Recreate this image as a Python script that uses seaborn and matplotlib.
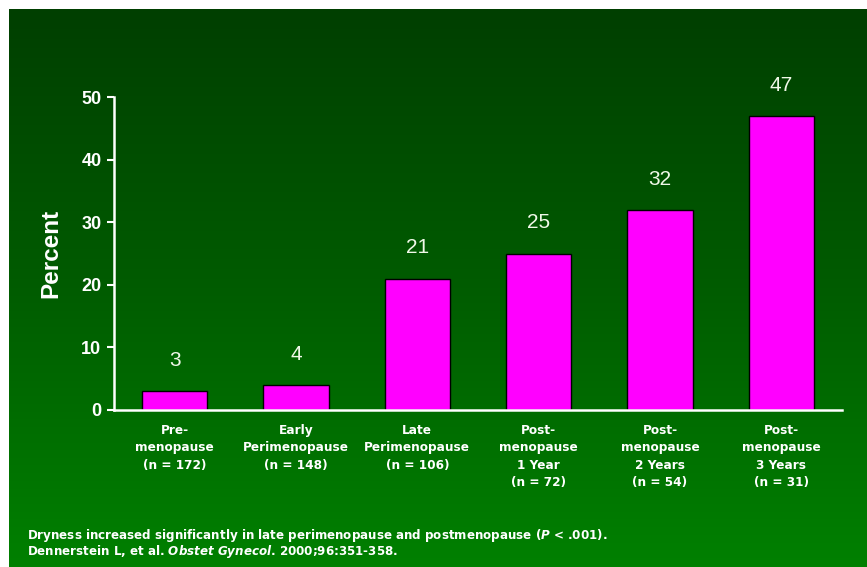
import numpy as np
import pandas as pd
import matplotlib
matplotlib.use("Agg")
import matplotlib.pyplot as plt
import seaborn as sns
from matplotlib.colors import LinearSegmentedColormap

categories = ["Pre-\nmenopause\n(n = 172)",
              "Early\nPerimenopause\n(n = 148)",
              "Late\nPerimenopause\n(n = 106)",
              "Post-\nmenopause\n1 Year\n(n = 72)",
              "Post-\nmenopause\n2 Years\n(n = 54)",
              "Post-\nmenopause\n3 Years\n(n = 31)"]
values = [3, 4, 21, 25, 32, 47]
yticks = [0, 10, 20, 30, 40, 50]

df = pd.DataFrame({"cat": categories, "val": values})

sns.set_theme(style="white")
plt.rcParams['font.family'] = ['DejaVu Sans']
plt.rcParams['mathtext.fontset'] = 'custom'
plt.rcParams['mathtext.it'] = 'DejaVu Sans:italic:bold'
plt.rcParams['mathtext.rm'] = 'DejaVu Sans:bold'

W, H = 867, 567
fig = plt.figure(figsize=(W / 100, H / 100), dpi=100)
fig.patch.set_facecolor("white")

# gradient background
bg = fig.add_axes([9 / W, 0, 1 - 9 / W, 1 - 9 / H])
cmap = LinearSegmentedColormap.from_list("g", ["#003f00", "#005c00", "#008000"])
grad = np.linspace(0, 1, 256).reshape(-1, 1)
bg.imshow(grad, aspect="auto", cmap=cmap, extent=[0, 1, 0, 1], origin="upper")
bg.set_axis_off()

left = 114 / W
right = 842 / W
bottom = 1 - 410 / H
top = 1 - 97 / H
ax = fig.add_axes([left, bottom, right - left, top - bottom])
ax.patch.set_alpha(0)

sns.barplot(data=df, x="cat", y="val", ax=ax, color="#ff00ff", saturation=1,
            width=0.54, edgecolor="black", linewidth=1.0)

ax.set_xlim(-0.5, 5.5)
ax.set_ylim(0, 50)
ax.set_yticks(yticks)
ax.set_yticklabels([str(t) for t in yticks], color="white", fontsize=13, fontweight="bold",
                   family="Liberation Sans")
ax.set_xticks(np.arange(-0.5, 6.0, 1.0))
ax.set_xticklabels([])
ax.set_xticks(np.arange(6), minor=True)
ax.set_xticklabels(categories, minor=True, color="white", fontsize=8.7, fontweight="bold",
                   linespacing=1.45, va="top")
ax.tick_params(axis="x", which="minor", length=0, pad=10)
ax.tick_params(axis="x", which="major", direction="out", length=5, width=1.5, color="white")
ax.tick_params(axis="y", direction="out", length=5, width=1.5, color="white", pad=4, left=True)

for s in ["top", "right"]:
    ax.spines[s].set_visible(False)
for s in ["left", "bottom"]:
    ax.spines[s].set_color("white")
    ax.spines[s].set_linewidth(1.8)

ax.set_xlabel("")
ax.set_ylabel("Percent", color="white", fontsize=17.5, fontweight="bold", labelpad=14,
              family="Liberation Sans")

for i, v in enumerate(values):
    ax.annotate(str(v), (i, v), xytext=(0, 22), textcoords="offset points",
                ha="center", va="center", color="#f0f8e8", fontsize=15,
                family="Liberation Sans", annotation_clip=False)

fig.text(27 / W, 1 - 535 / H,
         r"Dryness increased significantly in late perimenopause and postmenopause ($\mathit{P}$ < .001).",
         color="white", fontsize=8.6, fontweight="bold", va="center")
fig.text(27 / W, 1 - 551 / H,
         r"Dennerstein L, et al. $\mathit{Obstet\ Gynecol}$. 2000;96:351-358.",
         color="white", fontsize=8.6, fontweight="bold", va="center")

fig.savefig("out.png", dpi=100, facecolor=fig.get_facecolor())
